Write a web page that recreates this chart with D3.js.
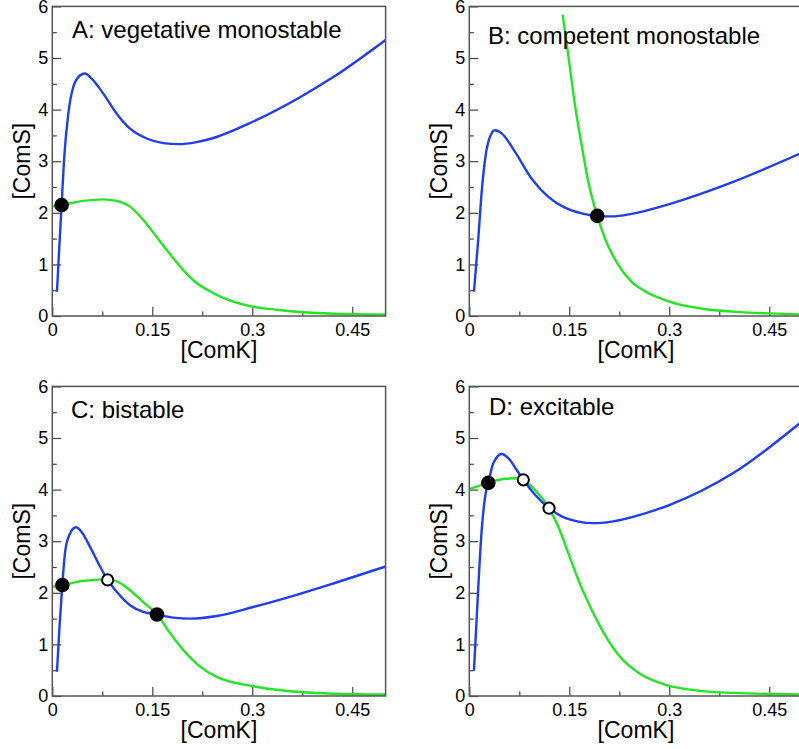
<!DOCTYPE html>
<html>
<head>
<meta charset="utf-8">
<style>
  body { margin: 0; background: #fff; }
  svg { display: block; font-family: "Liberation Sans", Arial, Helvetica, sans-serif; }
</style>
<script src="https://d3js.org/d3.v7.min.js"></script>
</head>
<body>
<svg width="799" height="749"></svg>
<script>
// tick values
var xTicks = [0, 0.15, 0.3, 0.45];
var xMinor = [0.075, 0.225, 0.375];
var yTicks = [0, 1, 2, 3, 4, 5, 6];
var yMinor = [0.5, 1.5, 2.5, 3.5, 4.5, 5.5];

var titles = ["A: vegetative monostable", "B: competent monostable", "C: bistable", "D: excitable"];

// [ComK, ComS]
var blueA = [[0.007,0.47],[0.0105,1.34],[0.014,2.15],[0.0176,3.02],[0.024,3.92],[0.0315,4.44],[0.0415,4.66],[0.049,4.70],[0.059,4.60],[0.0765,4.31],[0.0966,3.92],[0.1166,3.63],[0.1416,3.44],[0.1665,3.35],[0.189,3.33],[0.2166,3.37],[0.2365,3.43],[0.3,3.76],[0.3716,4.24],[0.4215,4.63],[0.5,5.35]];
var greenA = [[0,2.12],[0.014,2.15],[0.0465,2.23],[0.0765,2.26],[0.0966,2.23],[0.1166,2.12],[0.1365,1.86],[0.1566,1.53],[0.1766,1.20],[0.1965,0.89],[0.2166,0.64],[0.2365,0.48],[0.2565,0.35],[0.2965,0.19],[0.3366,0.12],[0.3716,0.077],[0.4215,0.045],[0.5,0.03]];
var dotsA = [[0.014,2.15,1]];

var blueB = [[0.007,0.47],[0.0135,1.50],[0.0186,2.41],[0.0246,3.12],[0.031,3.47],[0.0385,3.60],[0.0486,3.54],[0.0686,3.18],[0.0936,2.66],[0.1185,2.31],[0.1436,2.10],[0.1686,1.99],[0.192,1.94],[0.2136,1.93],[0.2436,1.98],[0.3,2.17],[0.396,2.60],[0.5,3.17]];
var greenB = [[0.140,5.84],[0.1485,5.05],[0.1586,4.08],[0.1686,3.31],[0.1785,2.60],[0.192,1.94],[0.2036,1.50],[0.2235,0.99],[0.2436,0.66],[0.2636,0.48],[0.3,0.28],[0.35,0.14],[0.4,0.08],[0.45,0.05],[0.5,0.03]];
var dotsB = [[0.192,1.94,1]];

var blueC = [[0.007,0.47],[0.0105,1.28],[0.015,2.15],[0.019,2.77],[0.0255,3.12],[0.0355,3.27],[0.044,3.18],[0.0566,2.89],[0.0716,2.51],[0.083,2.25],[0.0966,2.02],[0.1166,1.76],[0.1365,1.63],[0.157,1.58],[0.1815,1.52],[0.2066,1.50],[0.2466,1.55],[0.3,1.72],[0.3716,1.98],[0.4215,2.18],[0.5,2.51]];
var greenC = [[0,2.12],[0.015,2.15],[0.0465,2.23],[0.0765,2.26],[0.0966,2.22],[0.1166,2.05],[0.1365,1.82],[0.157,1.58],[0.1766,1.22],[0.1965,0.89],[0.2216,0.57],[0.2466,0.37],[0.2965,0.20],[0.3366,0.12],[0.3716,0.077],[0.4215,0.045],[0.5,0.03]];
var dotsC = [[0.015,2.15,1],[0.083,2.25,0],[0.157,1.58,1]];

var blueD = [[0.007,0.49],[0.0135,2.12],[0.0186,3.22],[0.0246,3.93],[0.0285,4.13],[0.036,4.51],[0.0486,4.69],[0.0585,4.61],[0.0711,4.38],[0.081,4.19],[0.0986,3.90],[0.1196,3.64],[0.1386,3.48],[0.1635,3.38],[0.186,3.35],[0.2136,3.38],[0.2636,3.54],[0.3,3.70],[0.396,4.32],[0.5,5.33]];
var greenD = [[0,4.01],[0.0285,4.13],[0.0535,4.21],[0.0735,4.22],[0.081,4.19],[0.0986,3.99],[0.1196,3.64],[0.1335,3.28],[0.1485,2.77],[0.1635,2.25],[0.1836,1.67],[0.2036,1.18],[0.226,0.76],[0.256,0.43],[0.296,0.21],[0.346,0.10],[0.396,0.06],[0.5,0.03]];
var dotsD = [[0.0285,4.13,1],[0.081,4.19,0],[0.1196,3.64,0]];

var panels = [
  {left: 52.3,  top: 6.4,   blue: blueA, green: greenA, dots: dotsA, title: titles[0], tx: 72,  ty: 31.5},
  {left: 469.3, top: 6.4,   blue: blueB, green: greenB, dots: dotsB, title: titles[1], tx: 488, ty: 37.5},
  {left: 52.3,  top: 386.4, blue: blueC, green: greenC, dots: dotsC, title: titles[2], tx: 71,  ty: 32},
  {left: 469.3, top: 386.4, blue: blueD, green: greenD, dots: dotsD, title: titles[3], tx: 489, ty: 28.5}
];

var W = 333.3, H = 309.6;
var svg = d3.select("svg");

panels.forEach(function(p, i) {
  var g = svg.append("g").attr("transform", "translate(" + p.left + "," + p.top + ")");
  var x = d3.scaleLinear().domain([0, 0.5]).range([0, W]);
  var y = d3.scaleLinear().domain([0, 6]).range([H, 0]);

  g.append("clipPath").attr("id", "clip" + i)
    .append("rect").attr("width", W).attr("height", H);

  // minor ticks
  g.append("g").attr("transform", "translate(0," + H + ")")
    .call(d3.axisBottom(x).tickValues(xMinor).tickSize(-4.5).tickFormat(""))
    .call(function(a) { a.select(".domain").remove(); });
  g.append("g")
    .call(d3.axisLeft(y).tickValues(yMinor).tickSize(-4.5).tickFormat(""))
    .call(function(a) { a.select(".domain").remove(); });

  // major ticks
  g.append("g").attr("transform", "translate(0," + H + ")")
    .call(d3.axisBottom(x).tickValues(xTicks).tickSize(-9).tickPadding(7).tickFormat(function(d) { return String(d); }))
    .call(function(a) { a.select(".domain").remove(); })
    .selectAll("text").attr("font-size", 18).attr("fill", "#000");
  g.append("g")
    .call(d3.axisLeft(y).tickValues(yTicks).tickSize(-9).tickPadding(4).tickFormat(d3.format("d")))
    .call(function(a) { a.select(".domain").remove(); })
    .selectAll("text").attr("font-size", 18).attr("fill", "#000");

  g.selectAll(".tick line").attr("stroke", "#444").attr("stroke-width", 1.2);

  var line = d3.line()
    .x(function(d) { return x(d[0]); })
    .y(function(d) { return y(d[1]); })
    .curve(d3.curveMonotoneX);

  var curves = g.append("g").attr("clip-path", "url(#clip" + i + ")");
  curves.append("path").datum(p.green)
    .attr("fill", "none").attr("stroke", "#22e622").attr("stroke-width", 2.4).attr("d", line);
  curves.append("path").datum(p.blue)
    .attr("fill", "none").attr("stroke", "#1f3ef2").attr("stroke-width", 2.4).attr("d", line);

  g.selectAll("circle.fp").data(p.dots).enter().append("circle")
    .attr("class", "fp")
    .attr("cx", function(d) { return x(d[0]); })
    .attr("cy", function(d) { return y(d[1]); })
    .attr("r", function(d) { return d[2] ? 6.3 : 5.6; })
    .attr("fill", function(d) { return d[2] ? "#000" : "#fff"; })
    .attr("stroke", "#000").attr("stroke-width", 2);

  g.append("rect").attr("width", W).attr("height", H)
    .attr("fill", "none").attr("stroke", "#555").attr("stroke-width", 1.5);

  g.append("text").attr("x", p.tx - p.left).attr("y", p.ty)
    .attr("font-size", 24).text(p.title);

  g.append("text").attr("x", W / 2).attr("y", H + 42)
    .attr("text-anchor", "middle").attr("font-size", 23).text("[ComK]");

  g.append("text")
    .attr("transform", "translate(-22," + (H / 2) + ") rotate(-90)")
    .attr("text-anchor", "middle").attr("font-size", 23).text("[ComS]");
});
</script>
</body>
</html>
